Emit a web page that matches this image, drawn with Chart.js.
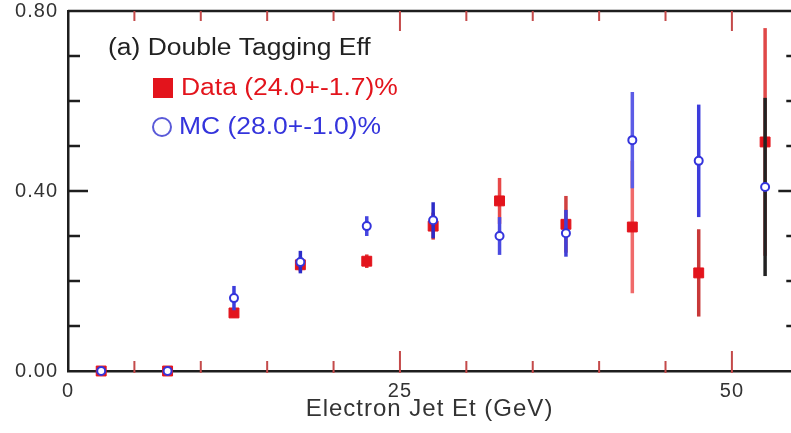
<!DOCTYPE html>
<html>
<head>
<meta charset="utf-8">
<script src="https://cdn.jsdelivr.net/npm/chart.js@4"></script>
<style>
  html, body { margin: 0; padding: 0; background: #fff; }
  #wrap { width: 791px; height: 433px; }
</style>
</head>
<body>
<div id="wrap"><canvas id="eff_chart"></canvas></div>
<script>
(function() {
  'use strict';

  // Electron jet Et bin centres (GeV)
  var et_bins = [2.5, 7.5, 12.5, 17.5, 22.5, 27.5, 32.5, 37.5, 42.5, 47.5, 52.5];

  // Double tagging efficiency - data
  var data_eff = [0.0, 0.0, 0.129, 0.236, 0.244, 0.322, 0.378, 0.326, 0.32, 0.218, 0.509];
  var data_err = [0.0, 0.0, 0.01, 0.015, 0.015, 0.03, 0.051, 0.063, 0.147, 0.097, 0.253];

  // Double tagging efficiency - MC
  var mc_eff = [0.0, 0.0, 0.162, 0.242, 0.322, 0.335, 0.3, 0.306, 0.513, 0.467, 0.409];
  var mc_err = [0.0, 0.0, 0.027, 0.025, 0.022, 0.04, 0.042, 0.052, 0.107, 0.125, 0.198];

  // Axis ticks and labels
  var x_ticks = [0, 5, 10, 15, 20, 25, 30, 35, 40, 45, 50];
  var x_labels = [0, 25, 50];
  var y_ticks = [0, 0.1, 0.2, 0.3, 0.4, 0.5, 0.6, 0.7, 0.8];
  var y_labels = [0, 0.4, 0.8];

  var legend_title = '(a) Double Tagging Eff';
  var legend_data = 'Data (24.0+-1.7)%';
  var legend_mc = 'MC (28.0+-1.0)%';

  var red = '#e3141c';
  var blue = '#3434dc';
  var font_family = '"Liberation Sans", Arial, Helvetica, sans-serif';

  // error bar colours, one per bin
  var data_bar_colors = ['#e03030', '#e03030', '#e03030', '#e03030', '#e03030', '#d83030',
    '#e84848', '#d04040', '#f06a6a', '#c83838', '#e04848'];
  var mc_bar_colors = ['#3c3cdc', '#3c3cdc', '#3c3cdc', '#2c2cc8', '#4646e0', '#2c2cc8',
    '#4a4ae0', '#4040d8', '#5c5ce6', '#3c3cdc', '#222222'];

  var has_label = function(list, v) {
    for (var i = 0; i < list.length; i++) {
      if (Math.abs(list[i] - v) < 1e-9) return true;
    }
    return false;
  };

  var points = function(values) {
    return et_bins.map(function(x, i) {
      return { x: x, y: values[i] };
    });
  };

  // Draw vertical error bars just before each dataset's markers
  var error_bars = {
    id: 'error_bars',
    beforeDatasetDraw: function(chart, args) {
      var errs = args.index === 0 ? data_err : mc_err;
      var vals = args.index === 0 ? data_eff : mc_eff;
      var cols = args.index === 0 ? data_bar_colors : mc_bar_colors;
      var xs = chart.scales.x;
      var ys = chart.scales.y;
      var ctx = chart.ctx;
      ctx.save();
      ctx.lineWidth = 3.5;
      for (var i = 0; i < et_bins.length; i++) {
        if (!errs[i]) continue;
        var px = xs.getPixelForValue(et_bins[i]);
        ctx.strokeStyle = cols[i];
        ctx.beginPath();
        ctx.moveTo(px, ys.getPixelForValue(vals[i] - errs[i]));
        ctx.lineTo(px, ys.getPixelForValue(vals[i] + errs[i]));
        ctx.stroke();
      }
      ctx.restore();
    }
  };

  var draw_text = function(ctx, txt, x, y, color, size) {
    ctx.save();
    ctx.letterSpacing = '0px';
    ctx.font = size + 'px ' + font_family;
    ctx.fillStyle = color;
    ctx.textBaseline = 'middle';
    ctx.textAlign = 'left';
    ctx.translate(x, y);
    ctx.scale(1.15, 1);
    ctx.fillText(txt, 0, 0);
    ctx.restore();
  };

  // Inward tick marks on all four sides, top frame line and the legend box
  var frame_ticks = {
    id: 'frame_ticks',
    afterDraw: function(chart) {
      var ctx = chart.ctx;
      var area = chart.chartArea;
      var xs = chart.scales.x;
      var ys = chart.scales.y;
      ctx.save();
      ctx.letterSpacing = '0px';

      ctx.strokeStyle = '#1e1e1e';
      ctx.lineWidth = 2.5;
      ctx.beginPath();
      ctx.moveTo(area.left, area.top);
      ctx.lineTo(chart.width, area.top);
      ctx.stroke();

      ctx.strokeStyle = '#c44a4a';
      ctx.lineWidth = 2;
      x_ticks.forEach(function(v) {
        if (v === 0) return;
        var px = xs.getPixelForValue(v);
        var len = has_label(x_labels, v) ? 20 : 10;
        ctx.beginPath();
        ctx.moveTo(px, area.bottom + 2);
        ctx.lineTo(px, area.bottom - len);
        ctx.moveTo(px, area.top);
        ctx.lineTo(px, area.top + len);
        ctx.stroke();
      });

      var right_axis = xs.getPixelForValue(55);
      ctx.strokeStyle = '#1e1e1e';
      ctx.lineWidth = 2.5;
      y_ticks.forEach(function(v) {
        if (v === 0 || v === 0.8) return;
        var py = ys.getPixelForValue(v);
        var len = has_label(y_labels, v) ? 20 : 12;
        ctx.beginPath();
        ctx.moveTo(area.left, py);
        ctx.lineTo(area.left + len, py);
        ctx.moveTo(right_axis, py);
        ctx.lineTo(right_axis - len, py);
        ctx.stroke();
      });

      // legend
      draw_text(ctx, legend_title, 108, 49, '#222222', 23);
      ctx.fillStyle = red;
      ctx.fillRect(153, 78, 20, 20);
      draw_text(ctx, legend_data, 181, 89, red, 23);
      ctx.strokeStyle = '#5a5ad8';
      ctx.lineWidth = 2;
      ctx.beginPath();
      ctx.arc(162, 127, 9, 0, Math.PI * 2);
      ctx.stroke();
      draw_text(ctx, legend_mc, 179, 128, blue, 23);
      ctx.restore();
    }
  };

  // Slightly wider tick label text
  var text_spacing = {
    id: 'text_spacing',
    beforeUpdate: function(chart) {
      chart.ctx.letterSpacing = '1px';
    },
    beforeDraw: function(chart) {
      chart.ctx.letterSpacing = '1px';
    }
  };

  var tick_font = { family: font_family, size: 20, lineHeight: 1.0 };

  var eff_canvas = document.getElementById('eff_chart').getContext('2d');
  new Chart(eff_canvas, {
    type: 'scatter',
    data: {
      datasets: [
        {
          label: 'Data',
          data: points(data_eff),
          order: 2,
          pointStyle: 'rect',
          pointRadius: 7,
          backgroundColor: red,
          borderColor: red,
          borderWidth: 1,
          clip: false
        },
        {
          label: 'MC',
          data: points(mc_eff),
          order: 1,
          pointStyle: 'circle',
          pointRadius: 4,
          backgroundColor: '#ffffff',
          borderColor: blue,
          borderWidth: 2,
          clip: false
        }
      ]
    },
    options: {
      responsive: true,
      maintainAspectRatio: false,
      animation: false,
      layout: {
        autoPadding: false,
        padding: { top: 11, right: 0, bottom: 0, left: 0 }
      },
      plugins: {
        legend: { display: false },
        tooltip: { enabled: false }
      },
      scales: {
        x: {
          type: 'linear',
          min: 0,
          max: 54.45,
          grid: { display: false, drawTicks: false },
          border: { display: true, color: '#1e1e1e', width: 2.5 },
          afterBuildTicks: function(scale) {
            scale.ticks = x_ticks.map(function(v) { return { value: v }; });
          },
          afterFit: function(scale) {
            scale.height = 62;
            scale.paddingLeft = 0;
            scale.paddingRight = 0;
          },
          ticks: {
            autoSkip: false,
            maxRotation: 0,
            padding: 10,
            color: '#333333',
            font: tick_font,
            callback: function(v) {
              return has_label(x_labels, v) ? String(v) : '';
            }
          },
          title: {
            display: true,
            text: 'Electron Jet Et (GeV)',
            color: '#333333',
            font: { family: font_family, size: 24 },
            padding: { top: 0, bottom: 9 }
          }
        },
        y: {
          min: 0,
          max: 0.8,
          grid: { display: false, drawTicks: false },
          border: { display: true, color: '#1e1e1e', width: 2.5 },
          afterBuildTicks: function(scale) {
            scale.ticks = y_ticks.map(function(v) { return { value: v }; });
          },
          afterFit: function(scale) {
            scale.width = 68;
            scale.paddingTop = 0;
            scale.paddingBottom = 0;
          },
          ticks: {
            autoSkip: false,
            padding: 10,
            color: '#333333',
            font: tick_font,
            callback: function(v) {
              return has_label(y_labels, v) ? v.toFixed(2) : '';
            }
          }
        }
      }
    },
    plugins: [text_spacing, error_bars, frame_ticks]
  });
})();
</script>
</body>
</html>
